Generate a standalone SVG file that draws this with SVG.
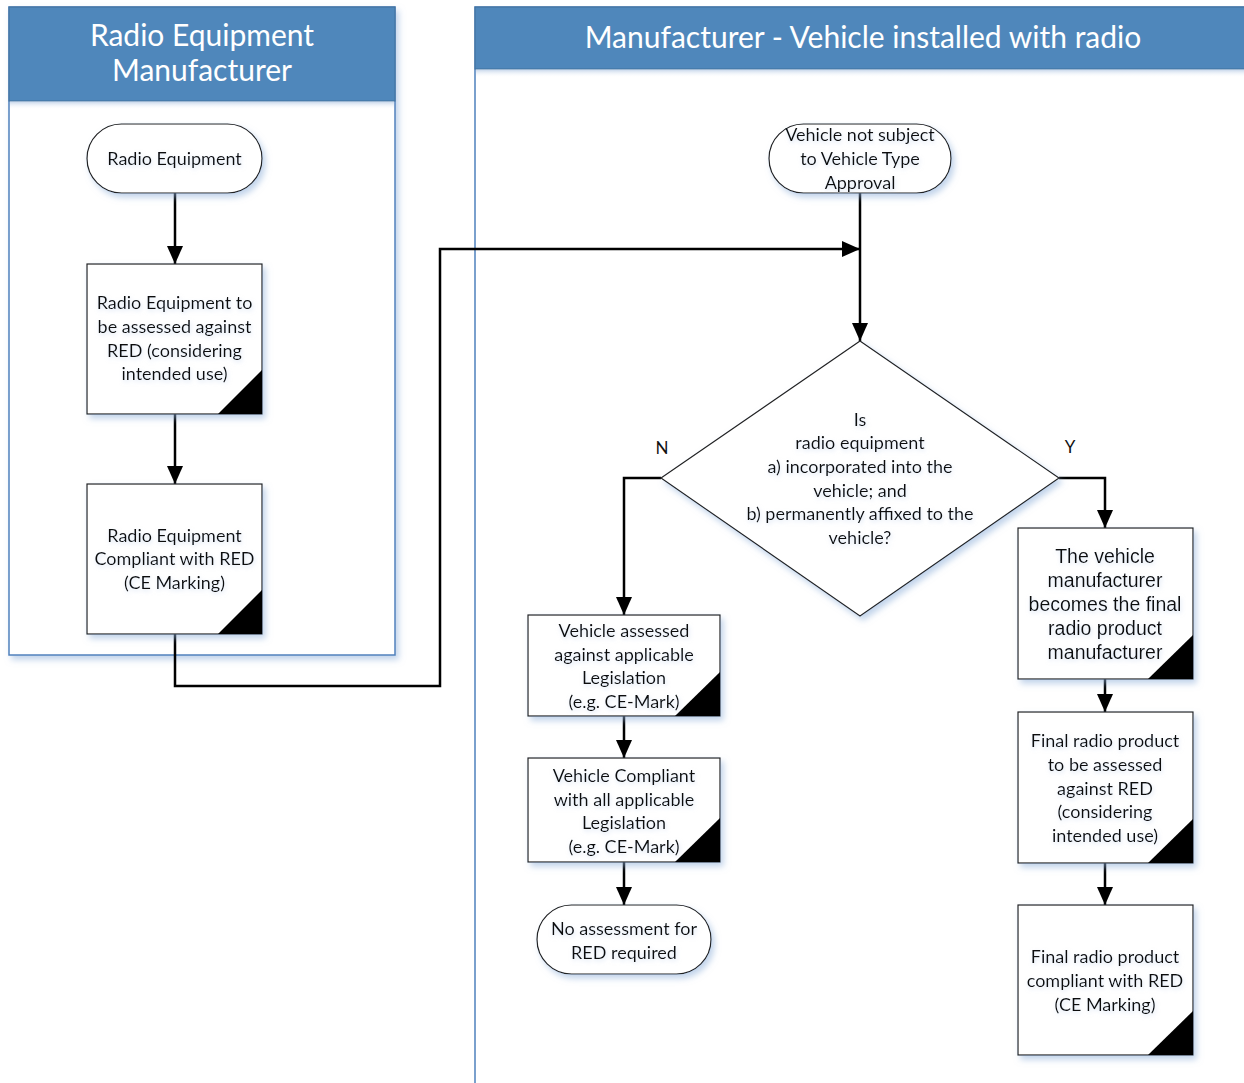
<svg xmlns="http://www.w3.org/2000/svg" width="1244" height="1083" viewBox="0 0 1244 1083">
<defs>
<style>
.pool{fill:#fff;stroke:#4F81BD;stroke-width:1.5}
.hdr{fill:#4F87BB;stroke:#41719C;stroke-width:1}
.htxt{font-family:Lato,"Open Sans",sans-serif;font-size:30px;fill:#fff;text-anchor:middle}
.shape{fill:#fff;stroke:#222;stroke-width:1.2}
.corner{fill:#000}
.t{font-family:Lato,"Noto Sans",sans-serif;font-size:18px;fill:#111;text-anchor:middle}
.ta{font-family:"Liberation Sans",Arial,sans-serif;font-size:19.5px;fill:#111;text-anchor:middle}
.lbl{font-family:Lato,"Noto Sans",sans-serif;font-size:17px;fill:#111;text-anchor:middle}
.conn{fill:none;stroke:#000;stroke-width:2.5}
</style>
<marker id="arr" viewBox="0 0 18 16" refX="18" refY="8" markerWidth="18" markerHeight="16" markerUnits="userSpaceOnUse" orient="auto"><path d="M0,0 L18,8 L0,16 z" fill="#000"/></marker>
<filter id="sh" x="-10%" y="-10%" width="130%" height="130%">
<feGaussianBlur in="SourceAlpha" stdDeviation="3"/>
<feOffset dx="3" dy="4" result="b"/>
<feFlood flood-color="#8FB0DA" flood-opacity="0.55"/>
<feComposite in2="b" operator="in"/>
<feMerge><feMergeNode/><feMergeNode in="SourceGraphic"/></feMerge>
</filter>
<filter id="tg" x="-10%" y="-30%" width="120%" height="160%">
<feGaussianBlur in="SourceAlpha" stdDeviation="2"/>
<feOffset dx="1" dy="2" result="b"/>
<feFlood flood-color="#B8CCE8" flood-opacity="0.55"/>
<feComposite in2="b" operator="in"/>
<feMerge><feMergeNode/><feMergeNode in="SourceGraphic"/></feMerge>
</filter>
<linearGradient id="hs" x1="0" y1="0" x2="0" y2="1"><stop offset="0" stop-color="#9DB9DC" stop-opacity="0.6"/><stop offset="1" stop-color="#fff" stop-opacity="0"/></linearGradient>
</defs>

<g id="pool-left">
<rect class="pool" x="9" y="7" width="386" height="648" filter="url(#sh)"/>
<rect class="hdr" x="9" y="7" width="386" height="94"/>
<rect x="10" y="101.5" width="384" height="8" fill="url(#hs)"/>
<text class="htxt" x="202" y="46">Radio Equipment</text>
<text class="htxt" x="202" y="81">Manufacturer</text>
</g>

<g id="pool-right">
<rect class="pool" x="475" y="7" width="775" height="1090"/>
<rect class="hdr" x="475" y="7" width="775" height="62"/>
<rect x="476" y="69.5" width="770" height="8" fill="url(#hs)"/>
<text class="htxt" x="863" y="48">Manufacturer - Vehicle installed with radio</text>
</g>

<g id="connectors">
<path class="conn" d="M175,193 V264" marker-end="url(#arr)"/>
<path class="conn" d="M175,414 V484" marker-end="url(#arr)"/>
<path class="conn" d="M175,634 V686 H440 V249 H860" marker-end="url(#arr)"/>
<path class="conn" d="M860,193 V341" marker-end="url(#arr)"/>
<path class="conn" d="M661,478 H624 V615" marker-end="url(#arr)"/>
<path class="conn" d="M1059,478 H1105 V528" marker-end="url(#arr)"/>
<path class="conn" d="M624,716 V758" marker-end="url(#arr)"/>
<path class="conn" d="M624,862 V905" marker-end="url(#arr)"/>
<path class="conn" d="M1105,679 V712" marker-end="url(#arr)"/>
<path class="conn" d="M1105,863 V905" marker-end="url(#arr)"/>
<text class="lbl" x="662" y="454">N</text>
<text class="lbl" x="1070" y="453">Y</text>
</g>

<g id="n-radio-equipment">
<rect class="shape" x="87" y="124" width="175" height="69" rx="34.5" filter="url(#sh)"/>
<text class="t" filter="url(#tg)" x="174.5" y="165">Radio Equipment</text>
</g>

<g id="n-re-assessed">
<rect class="shape" x="87" y="264" width="175" height="150" filter="url(#sh)"/>
<path class="corner" d="M218,414 H262 V370 z"/>
<g class="t" filter="url(#tg)">
<text x="174.5" y="309">Radio Equipment to</text>
<text x="174.5" y="333">be assessed against</text>
<text x="174.5" y="357">RED (considering</text>
<text x="174.5" y="380">intended use)</text>
</g>
</g>

<g id="n-re-compliant">
<rect class="shape" x="87" y="484" width="175" height="150" filter="url(#sh)"/>
<path class="corner" d="M218,634 H262 V590 z"/>
<g class="t" filter="url(#tg)">
<text x="174.5" y="542">Radio Equipment</text>
<text x="174.5" y="565">Compliant with RED</text>
<text x="174.5" y="589">(CE Marking)</text>
</g>
</g>

<g id="n-vehicle-not-subject">
<rect class="shape" x="769" y="124" width="182" height="69" rx="34.5" filter="url(#sh)"/>
<g class="t" filter="url(#tg)">
<text x="860" y="141">Vehicle not subject</text>
<text x="860" y="165">to Vehicle Type</text>
<text x="860" y="189">Approval</text>
</g>
</g>

<g id="n-decision">
<path class="shape" d="M860,341 L1059,478 L860,616 L661,478 z" filter="url(#sh)"/>
<g class="t" filter="url(#tg)">
<text x="860" y="426">Is</text>
<text x="860" y="449">radio equipment</text>
<text x="860" y="473">a) incorporated into the</text>
<text x="860" y="497">vehicle; and</text>
<text x="860" y="520">b) permanently affixed to the</text>
<text x="860" y="544">vehicle?</text>
</g>
</g>

<g id="n-vehicle-assessed">
<rect class="shape" x="528" y="615" width="192" height="101" filter="url(#sh)"/>
<path class="corner" d="M675,716 H720 V672 z"/>
<g class="t" filter="url(#tg)">
<text x="624" y="637">Vehicle assessed</text>
<text x="624" y="661">against applicable</text>
<text x="624" y="684">Legislation</text>
<text x="624" y="708">(e.g. CE-Mark)</text>
</g>
</g>

<g id="n-vehicle-compliant">
<rect class="shape" x="528" y="758" width="192" height="104" filter="url(#sh)"/>
<path class="corner" d="M675,862 H720 V818 z"/>
<g class="t" filter="url(#tg)">
<text x="624" y="782">Vehicle Compliant</text>
<text x="624" y="806">with all applicable</text>
<text x="624" y="829">Legislation</text>
<text x="624" y="853">(e.g. CE-Mark)</text>
</g>
</g>

<g id="n-no-assessment">
<rect class="shape" x="537" y="905" width="174" height="69" rx="34.5" filter="url(#sh)"/>
<g class="t" filter="url(#tg)">
<text x="624" y="935">No assessment for</text>
<text x="624" y="959">RED required</text>
</g>
</g>

<g id="n-final-manufacturer">
<rect class="shape" x="1018" y="528" width="175" height="151" filter="url(#sh)"/>
<path class="corner" d="M1148,679 H1193 V635 z"/>
<g class="ta" filter="url(#tg)">
<text x="1105" y="563">The vehicle</text>
<text x="1105" y="587">manufacturer</text>
<text x="1105" y="611">becomes the final</text>
<text x="1105" y="635">radio product</text>
<text x="1105" y="659">manufacturer</text>
</g>
</g>

<g id="n-final-assessed">
<rect class="shape" x="1018" y="712" width="175" height="151" filter="url(#sh)"/>
<path class="corner" d="M1148,863 H1193 V819 z"/>
<g class="t" filter="url(#tg)">
<text x="1105" y="747">Final radio product</text>
<text x="1105" y="771">to be assessed</text>
<text x="1105" y="795">against RED</text>
<text x="1105" y="818">(considering</text>
<text x="1105" y="842">intended use)</text>
</g>
</g>

<g id="n-final-compliant">
<rect class="shape" x="1018" y="905" width="175" height="150" filter="url(#sh)"/>
<path class="corner" d="M1148,1055 H1193 V1011 z"/>
<g class="t" filter="url(#tg)">
<text x="1105" y="963">Final radio product</text>
<text x="1105" y="987">compliant with RED</text>
<text x="1105" y="1011">(CE Marking)</text>
</g>
</g>
</svg>
